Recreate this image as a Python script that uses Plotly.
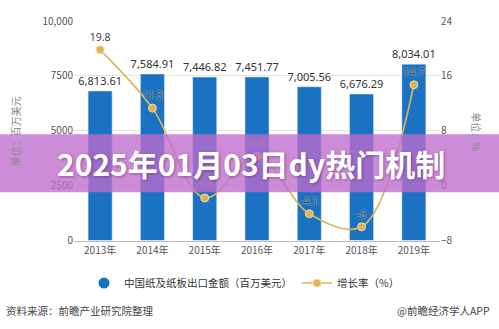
import plotly.graph_objects as go

years = ["2013年", "2014年", "2015年", "2016年", "2017年", "2018年", "2019年"]
export_value = [6813.61, 7584.91, 7446.82, 7451.77, 7005.56, 6676.29, 8034.01]
growth_rate = [19.8, 11.3, -1.8, 4.3, -4.1, -6, 14.7]
left_ticks = [0, 2500, 5000, 7500, 10000]
left_ticktext = ["0", "2500", "5000", "7500", "10,000"]
right_ticks = [-8, 0, 8, 16, 24]

FONT = "Noto Sans CJK SC, Noto Sans, sans-serif"
BAR = "#1b72c2"
GOLD = "#dcb55a"

fig = go.Figure()
fig.add_trace(go.Bar(
    x=years, y=export_value, name="中国纸及纸板出口金额（百万美元）",
    marker=dict(color=BAR), width=0.46, showlegend=False,
    texttemplate="%{y:,.2f}", textposition="outside", constraintext="none",
    textfont=dict(size=11, color="#333333", family="Noto Sans, sans-serif"),
    cliponaxis=False,
))
fig.add_trace(go.Scatter(
    x=[None], y=[None], name="中国纸及纸板出口金额（百万美元）",
    mode="markers", marker=dict(color=BAR, size=11, symbol="circle"),
    showlegend=True,
))
fig.add_trace(go.Scatter(
    x=years, y=growth_rate, name="增长率（%）", yaxis="y2",
    mode="lines+markers+text", line=dict(color=GOLD, width=1.6, shape="spline"),
    marker=dict(color=GOLD, size=8, line=dict(color="#f3dc9a", width=1)),
    text=[str(v) for v in growth_rate], textposition="top center",
    textfont=dict(size=10.5, color="#444444", family="Noto Sans, sans-serif",
                  shadow="0px 0px 2px white"),
    cliponaxis=False,
))

fig.update_layout(
    width=499, height=329,
    margin=dict(l=74, r=59, t=19, b=87),
    paper_bgcolor="white", plot_bgcolor="white",
    font=dict(family=FONT, color="#555555", size=10),
    bargap=0.54,
    xaxis=dict(type="category", showgrid=False, showline=True, linecolor="#bbbbbb",
               ticks="", tickfont=dict(size=10, color="#555555")),
    yaxis=dict(range=[0, 10000], tickvals=left_ticks, ticktext=left_ticktext,
               showgrid=True, gridcolor="#e3e3e3", zeroline=False,
               tickfont=dict(size=10, color="#555555")),
    yaxis2=dict(range=[-8, 24], tickvals=right_ticks, overlaying="y", side="right",
                showgrid=False, zeroline=False, tickfont=dict(size=10, color="#555555")),
    legend=dict(orientation="h", xref="container", yref="container",
                x=0.49, y=1 - 283 / 329, xanchor="center", yanchor="middle",
                font=dict(size=10.5, color="#333333"), itemwidth=30,
                traceorder="normal"),
    showlegend=True,
)

pw = 366.0
ph = 223.0
def px(xp):
    return (xp - 74) / pw
def py(yp):
    return (242 - yp) / ph

anns = [
    dict(x=px(15), y=py(131), text="单位：百万美元", textangle=-90, showarrow=False,
         font=dict(size=10, color="#8a8a8a"), xanchor="center", yanchor="middle"),
    dict(x=px(477), y=py(131), text="单位：%", textangle=90, showarrow=False,
         font=dict(size=10, color="#8a8a8a"), xanchor="center", yanchor="middle"),
    dict(x=px(4), y=py(313), text="资料来源：前瞻产业研究院整理", showarrow=False,
         font=dict(size=10.5, color="#444444"), xanchor="left", yanchor="middle"),
    dict(x=px(492), y=py(313), text="@前瞻经济学人APP", showarrow=False,
         font=dict(size=10.5, color="#444444"), xanchor="right", yanchor="middle"),
    dict(x=px(251), y=py(163), text="<b>2025年01月03日dy热门机制</b>", showarrow=False,
         font=dict(size=30, color="white", family=FONT,
                   shadow="1px 1px 3px rgba(80,40,90,0.5)"),
         xanchor="center", yanchor="middle"),
]
for a in anns:
    a["xref"] = "paper"
    a["yref"] = "paper"
fig.update_layout(annotations=anns)

fig.add_shape(type="rect", xref="paper", yref="paper",
              x0=px(-2), x1=px(502), y0=py(193), y1=py(134),
              fillcolor="rgba(191,108,204,0.78)", line=dict(width=0), layer="above")

fig.write_html("out.html")
